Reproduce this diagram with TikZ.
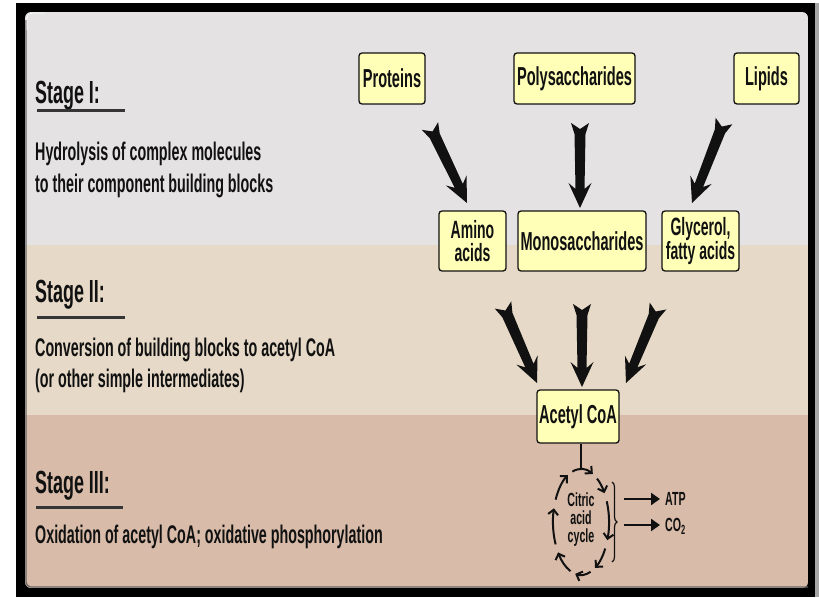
\documentclass[tikz,border=0pt]{standalone}
\usepackage{fontspec}
\setmainfont{Liberation Sans}[FakeStretch=0.56]
\usetikzlibrary{calc,arrows.meta,decorations.pathreplacing}
\definecolor{bandA}{HTML}{E4E2E3}
\definecolor{bandB}{HTML}{E6D9C7}
\definecolor{bandC}{HTML}{D8BBA9}
\definecolor{boxfill}{HTML}{FFFFB8}
\definecolor{ink}{HTML}{111111}
\newcommand\stagefont{\fontsize{32}{30}\selectfont\bfseries}
\newcommand\descfont{\fontsize{25.5}{33}\selectfont\bfseries}
\newcommand\boxfont{\fontsize{26}{23}\selectfont\bfseries}
\newcommand\twofont{\fontsize{25}{23}\selectfont\bfseries}
\newcommand\cycfont{\fontsize{19}{18}\selectfont\bfseries}
\newcommand\bigarrow[2]{%
  \fill[ink] (#2)
    -- ($(#2)!25pt!(#1)!11.5pt!-90:(#1)$)
    -- ($(#2)!19pt!(#1)!4.5pt!-90:(#1)$)
    -- ($(#1)!11pt!(#2)!5.5pt!90:(#2)$)
    -- ($(#1)!9pt!90:(#2)$)
    -- ($(#1)!6pt!(#2)$)
    -- ($(#1)!9pt!-90:(#2)$)
    -- ($(#1)!11pt!(#2)!5.5pt!-90:(#2)$)
    -- ($(#2)!19pt!(#1)!4.5pt!90:(#1)$)
    -- ($(#2)!25pt!(#1)!11.5pt!90:(#1)$)
    -- cycle;}
\begin{document}
\begin{tikzpicture}[x=1pt,y=-1pt,
  box/.style={draw=ink, line width=1.3pt, fill=boxfill, rounded corners=3pt,
    inner sep=0pt, align=center, font=\boxfont, text=ink},
  twobox/.style={box, font=\twofont},
  stagelabel/.style={anchor=base west, font=\stagefont, text=ink, inner sep=0pt},
  desc/.style={anchor=base west, font=\descfont, text=ink, inner sep=0pt},
  uline/.style={draw=ink!85, line width=3pt},
  cycarrow/.style={draw=ink, line width=2pt, -{Straight Barb[length=5pt,width=10pt,line width=2pt]}},
  outarrow/.style={draw=ink, line width=2.6pt, -{Triangle[length=9pt,width=12pt]}},
  smalllabel/.style={anchor=base west, font=\cycfont, text=ink, inner sep=0pt}]
\useasboundingbox (0,0) rectangle (819,597);
\fill[white] (0,0) rectangle (819,597);
\fill[black] (16,3) rectangle (815,597);
\fill[black!35] (815,3) rectangle (819,597);
% panel bands
\begin{scope}
  \clip[rounded corners=6pt] (25,12) rectangle (808,588);
  \fill[bandA] (25,12) rectangle (808,245);
  \fill[bandB] (25,245) rectangle (808,415);
  \fill[bandC] (25,415) rectangle (808,588);
\end{scope}
\draw[black!60, line width=1.2pt, rounded corners=5pt] (26,20) -- (26,587) -- (808,587);
\draw[white, line width=0.8pt, rounded corners=5pt] (27,30) -- (27,13) -- (45,13);

% stage texts
\node[stagelabel] (s1) at (35,103) {Stage I:};
\draw[uline] (37,110) -- (125,110);
\node[desc] (d1a) at (35,160) {Hydrolysis of complex molecules};
\node[desc] (d1b) at (35,192) {to their component building blocks};

\node[stagelabel] (s2) at (35,302) {Stage II:};
\draw[uline] (37,317) -- (125,317);
\node[desc] (d2a) at (35,356) {Conversion of building blocks to acetyl CoA};
\node[desc] (d2b) at (35,387) {(or other simple intermediates)};

\node[stagelabel] (s3) at (35,493) {Stage III:};
\draw[uline] (36,507) -- (123,507);
\node[desc] (d3) at (35,543) {Oxidation of acetyl CoA; oxidative phosphorylation};

% boxes
\node[box, minimum width=66pt, minimum height=51pt] (prot) at (392,78.5) {Proteins};
\node[box, minimum width=121pt, minimum height=51pt] (poly) at (574.5,78.5) {Polysaccharides};
\node[box, minimum width=65pt, minimum height=51pt] (lip) at (766.5,78.5) {Lipids};
\node[twobox, minimum width=67pt, minimum height=60pt] (amino) at (472.5,241) {Amino\\acids};
\node[box, minimum width=128pt, minimum height=60pt] (mono) at (582,241) {Monosaccharides};
\node[twobox, minimum width=77pt, minimum height=60pt] (glyc) at (700.5,241) {Glycerol,\\fatty acids};
\node[box, minimum width=82pt, minimum height=53pt] (acoa) at (578,416.5) {Acetyl CoA};

% big arrows
\coordinate (t1) at (430,126); \coordinate (h1) at (467,203);
\coordinate (t2) at (580,123); \coordinate (h2) at (580,208);
\coordinate (t3) at (724,121); \coordinate (h3) at (692,203);
\coordinate (t4) at (503,305); \coordinate (h4) at (537,383);
\coordinate (t5) at (582,304); \coordinate (h5) at (582,387);
\coordinate (t6) at (658,306); \coordinate (h6) at (626,383);
\bigarrow{t1}{h1}
\bigarrow{t2}{h2}
\bigarrow{t3}{h3}
\bigarrow{t4}{h4}
\bigarrow{t5}{h5}
\bigarrow{t6}{h6}

% citric acid cycle
\coordinate (cc) at (581,522);
\coordinate (ctop) at (581,469);
\draw[ink, line width=1.8pt] (acoa.south -| ctop) -- (ctop);
\foreach \a/\b in {-108/-65,-55/-33,-23/20,30/60,70/102,112/145,155/195,205/242}
  \draw[cycarrow] ($(cc)+(\a:28 and 53)$) arc[start angle=\a, end angle=\b, x radius=28, y radius=53];
\node[align=center, font=\cycfont, text=ink, inner sep=0pt] (cyc) at (581,520) {Citric\\acid\\cycle};
\draw[ink, line width=1.2pt, decorate, decoration={brace, amplitude=5pt}] (612,482) -- (612,562);

\node[smalllabel] (atp) at (665,505.5) {ATP};
\node[smalllabel] (co2) at (665,531.5) {CO\textsubscript{2}};
\coordinate (a1) at (624,499);
\coordinate (a2) at (624,525);
\draw[outarrow, shorten >=5pt] (a1) -- (a1 -| atp.west);
\draw[outarrow, shorten >=5pt] (a2) -- (a2 -| co2.west);
\end{tikzpicture}
\end{document}
